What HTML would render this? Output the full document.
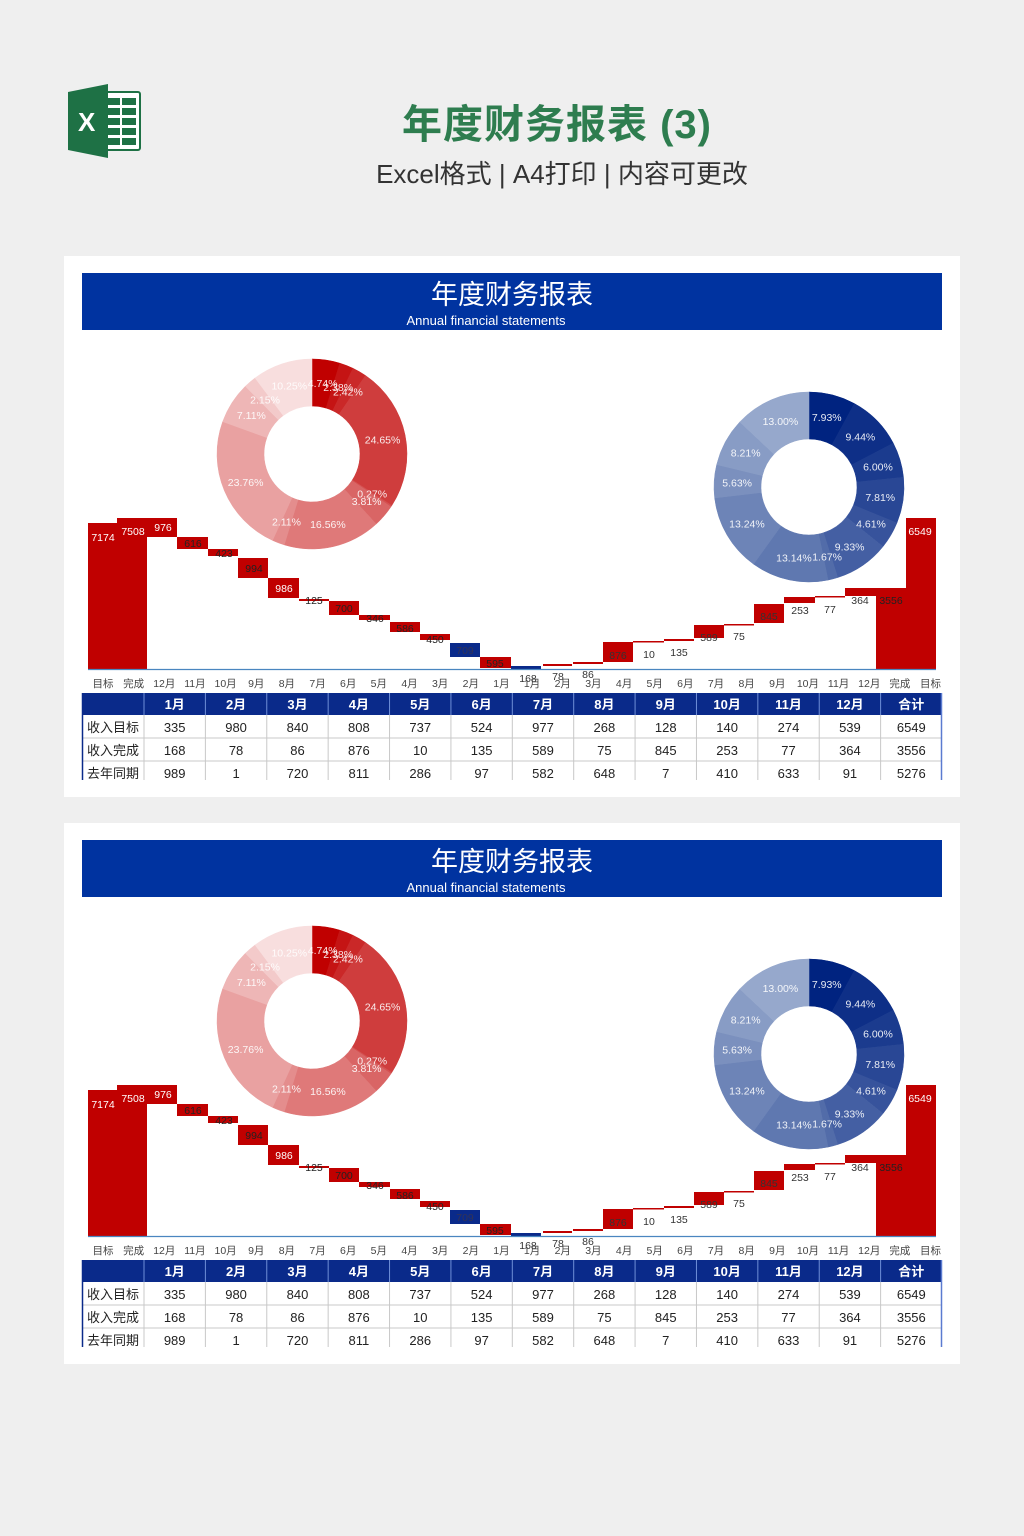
<!DOCTYPE html>
<html><head><meta charset="utf-8">
<style>
body{margin:0;width:1024px;height:1536px;background:#efefef;position:relative;overflow:hidden;font-family:"Liberation Sans","Noto Sans CJK SC",sans-serif;}
.t1{position:absolute;left:0;width:1024px;top:92px;text-align:center;padding-left:90px;box-sizing:border-box;font-size:40px;color:#2e7d4f;font-weight:bold;letter-spacing:1px}
.t2{position:absolute;left:0;width:1024px;top:154px;text-align:center;padding-left:100px;box-sizing:border-box;font-size:26px;color:#333}
.panel{position:absolute;left:64px;width:896px;height:541px;background:#fff}
svg text{font-family:"Liberation Sans","Noto Sans CJK SC",sans-serif}
</style></head><body>
<svg style="position:absolute;left:66px;top:84px" width="78" height="74" viewBox="0 0 78 74">
<rect x="30" y="8" width="44" height="58" rx="2" fill="#fff" stroke="#1e7145" stroke-width="2"/>
<g fill="#1e7145"><rect x="40" y="14" width="14" height="7"/><rect x="56" y="14" width="14" height="7"/><rect x="40" y="24" width="14" height="7"/><rect x="56" y="24" width="14" height="7"/><rect x="40" y="34" width="14" height="7"/><rect x="56" y="34" width="14" height="7"/><rect x="40" y="44" width="14" height="7"/><rect x="56" y="44" width="14" height="7"/><rect x="40" y="54" width="14" height="7"/><rect x="56" y="54" width="14" height="7"/></g>
<polygon points="2,8 42,0 42,74 2,66" fill="#1e7145"/>
<text x="12" y="47" font-size="26" font-weight="bold" fill="#fff">X</text>
</svg>
<div class="t1">年度财务报表 (3)</div>
<div class="t2">Excel格式 | A4打印 | 内容可更改</div>
<div id="p1" class="panel" style="top:256px"></div>
<div id="p2" class="panel" style="top:823px"></div>
<script>
function arc(cx,cy,R,r,a0,a1,col){
 const f=a=>[Math.sin(a*2*Math.PI),-Math.cos(a*2*Math.PI)];
 const [s0,c0]=f(a0),[s1,c1]=f(a1);const lg=(a1-a0)>0.5?1:0;
 return `<path d="M${cx+R*s0} ${cy+R*c0} A${R} ${R} 0 ${lg} 1 ${cx+R*s1} ${cy+R*c1} L${cx+r*s1} ${cy+r*c1} A${r} ${r} 0 ${lg} 0 ${cx+r*s0} ${cy+r*c0}Z" fill="${col}" stroke="${col}" stroke-width="0.5"/>`;
}
function mix(a,b,t){return 'rgb('+a.map((v,i)=>Math.round(v+(b[i]-v)*t)).join(',')+')';}
function donut(cx,cy,vals,c0,c1){
 let s='',acc=0,tot=vals.reduce((a,b)=>a+b,0);
 vals.forEach((v,i)=>{const a0=acc/tot,a1=(acc+v)/tot;s+=arc(cx,cy,95,48,a0,a1,mix(c0,c1,i/(vals.length-1)));acc+=v;});
 acc=0;
 vals.forEach((v,i)=>{const m=(acc+v/2)/tot*2*Math.PI;acc+=v;const x=cx+72*Math.sin(m),y=cy-72*Math.cos(m)+4;
 s+=`<text x="${x}" y="${y}" font-size="10.5" fill="#fff" text-anchor="middle" opacity="0.9">${v.toFixed(2)}%</text>`;});
 return s;
}
function panel(){
 const top=256;let s=`<svg width="896" height="541" viewBox="64 256 896 541" style="position:absolute;left:0;top:0">`;
 s+=`<rect x="82" y="273" width="860" height="57" fill="#0033a0"/>`;
 s+=`<text x="512" y="304" font-size="27" fill="#fff" text-anchor="middle">年度财务报表</text>`;
 s+=`<text x="486" y="325" font-size="13" fill="#fff" text-anchor="middle">Annual financial statements</text>`;
 s+=donut(312,454,[4.74,2.38,2.42,24.65,0.27,3.81,16.56,2.11,23.76,7.11,2.15,10.25],[192,0,0],[248,222,222]);
 s+=donut(809,487,[7.93,9.44,6.00,7.81,4.61,9.33,1.67,13.14,13.24,5.63,8.21,13.00],[0,35,128],[150,168,204]);
 // waterfall
 const R='#c00000',B='#0a2a8a';
 const bars=[[88,147,523,669,R,'7174',103,541,'#fff'],[117,147,518,669,R,'7508',133,535,'#fff'],
 [147,177,518,537,R,'976',163,531,'#fff'],[177,208,537,549,R,'616',193,547,'#222'],[208,238,549,556,R,'423',224,557,'#222'],
 [238,268,558,578,R,'994',254,572,'#222'],[268,299,578,598,R,'986',284,592,'#fff'],[299,329,599,601,R,'125',314,604,'#222'],
 [329,359,601,615,R,'700',344,612,'#222'],[359,390,615,620,R,'346',375,622,'#222'],[390,420,622,632,R,'586',405,632,'#222'],
 [420,450,634,640,R,'450',435,643,'#222'],[450,480,643,657,B,'709',465,654,'#335'],[480,511,657,668,R,'595',495,667,'#222'],
 [511,541,666,669,B,'168',528,682,'#333'],[543,572,664,666,R,'78',558,680,'#333'],[573,603,662,664,R,'86',588,678,'#333'],
 [603,633,642,662,R,'876',618,659,'#333'],[633,664,641,642,R,'10',649,658,'#333'],[664,694,639,641,R,'135',679,656,'#333'],
 [694,724,625,638,R,'589',709,641,'#333'],[724,754,624,625,R,'75',739,640,'#333'],[754,784,604,623,R,'845',769,620,'#333'],
 [784,815,597,603,R,'253',800,614,'#333'],[815,845,596,597,R,'77',830,613,'#333'],[845,876,588,596,R,'364',860,604,'#333'],
 [876,906,588,669,R,'3556',891,604,'#222'],[906,936,518,669,R,'6549',920,535,'#fff']];
 bars.forEach(b=>{s+=`<rect x="${b[0]}" y="${b[2]}" width="${b[1]-b[0]}" height="${Math.max(1.5,b[3]-b[2])}" fill="${b[4]}"/>`;});
 bars.forEach(b=>{s+=`<text x="${b[6]}" y="${b[7]}" font-size="10.5" fill="${b[8]}" text-anchor="middle">${b[5]}</text>`;});
 s+=`<line x1="88" y1="669.5" x2="936" y2="669.5" stroke="#4a86c0" stroke-width="1.2"/>`;
 const cats=['目标','完成','12月','11月','10月','9月','8月','7月','6月','5月','4月','3月','2月','1月','1月','2月','3月','4月','5月','6月','7月','8月','9月','10月','11月','12月','完成','目标'];
 cats.forEach((c,i)=>{s+=`<text x="${103+i*30.65}" y="687" font-size="10.5" fill="#444" text-anchor="middle">${c}</text>`;});
 // table
 const cols=['','1月','2月','3月','4月','5月','6月','7月','8月','9月','10月','11月','12月','合计'];
 const rows=[['收入目标',335,980,840,808,737,524,977,268,128,140,274,539,6549],['收入完成',168,78,86,876,10,135,589,75,845,253,77,364,3556],['去年同期',989,1,720,811,286,97,582,648,7,410,633,91,5276]];
 const x0=82,w0=62,cw=(942-144)/13;
 s+=`<rect x="82" y="693" width="860" height="22" fill="#0a2a8a"/>`;
 cols.forEach((c,i)=>{const cx=i==0?x0+w0/2:144+(i-0.5)*cw;s+=`<text x="${cx}" y="709" font-size="13" font-weight="bold" fill="#fff" text-anchor="middle">${c}</text>`;
  if(i>0)s+=`<line x1="${144+(i-1)*cw}" y1="693" x2="${144+(i-1)*cw}" y2="715" stroke="#6f8fd8" stroke-width="1"/>`;});
 [738,761].forEach(y=>{s+=`<line x1="82" y1="${y}" x2="942" y2="${y}" stroke="#c8c8c8"/>`;});
 for(let i=0;i<13;i++)s+=`<line x1="${144+i*cw}" y1="715" x2="${144+i*cw}" y2="780" stroke="#c8c8c8"/>`;
 s+=`<line x1="82.5" y1="693" x2="82.5" y2="780" stroke="#0a2a8a" stroke-width="1.5"/><line x1="941.5" y1="693" x2="941.5" y2="780" stroke="#5b7bd0" stroke-width="1.5"/>`;
 rows.forEach((r,j)=>{const y=732+j*23;r.forEach((v,i)=>{const cx=i==0?113:144+(i-0.5)*cw;s+=`<text x="${cx}" y="${y}" font-size="13" fill="#222" text-anchor="middle">${v}</text>`;});});
 s+='</svg>';return s;
}
const h=panel();document.getElementById('p1').innerHTML=h;document.getElementById('p2').innerHTML=h;
</script>
</body></html>
